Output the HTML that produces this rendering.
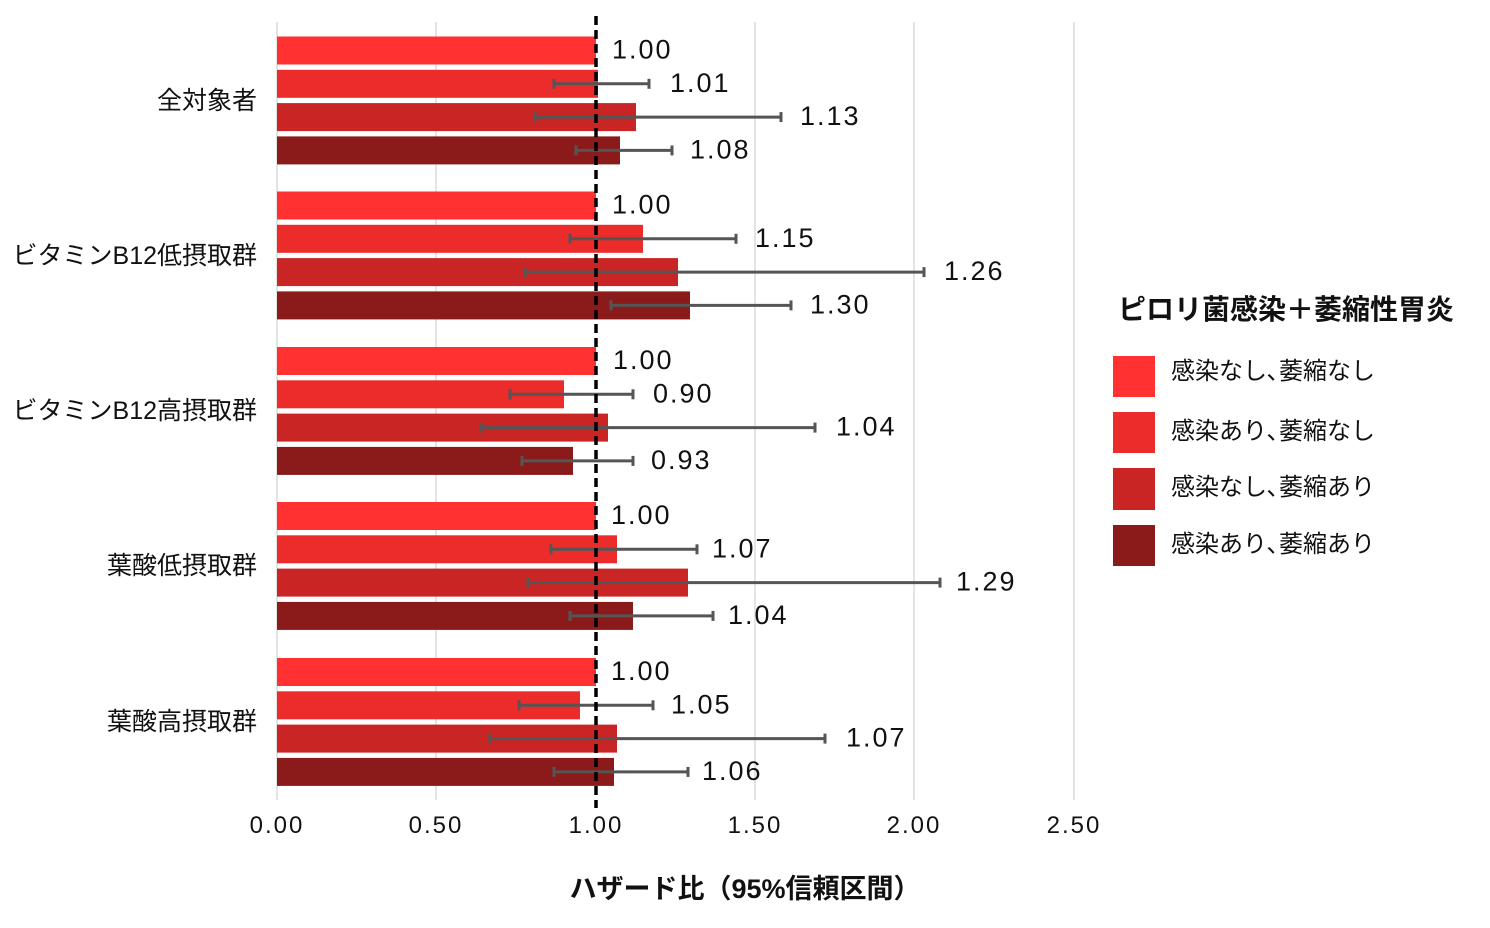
<!DOCTYPE html>
<html><head><meta charset="utf-8"><style>
body{margin:0;background:#fff;}
svg text{font-family:"Liberation Sans","Noto Sans CJK JP",sans-serif;fill:#111;}
</style></head><body>
<svg width="1490" height="923" xmlns="http://www.w3.org/2000/svg">
<g stroke="#dcdcdc" stroke-width="1.5">
<line x1="277" y1="22" x2="277" y2="800"/><line x1="436" y1="22" x2="436" y2="800"/>
<line x1="755" y1="22" x2="755" y2="800"/><line x1="914" y1="22" x2="914" y2="800"/><line x1="1074" y1="22" x2="1074" y2="800"/>
</g>
<g id="bars"></g>
<line x1="596" y1="16" x2="596" y2="808" stroke="#000" stroke-width="3.5" stroke-dasharray="9,5"/>
<g font-size="24" text-anchor="middle" letter-spacing="2">
<text x="277" y="833">0.00</text><text x="436" y="833">0.50</text><text x="596" y="833">1.00</text>
<text x="755" y="833">1.50</text><text x="914" y="833">2.00</text><text x="1074" y="833">2.50</text>
</g>
<g font-size="25" text-anchor="end">
<text x="257" y="109">全対象者</text><text x="257" y="264">ビタミンB12低摂取群</text>
<text x="257" y="419">ビタミンB12高摂取群</text><text x="257" y="574">葉酸低摂取群</text><text x="257" y="730">葉酸高摂取群</text>
</g>
<text x="745" y="898" font-size="27" font-weight="bold" text-anchor="middle">ハザード比（95%信頼区間）</text>
<text x="1118" y="319" font-size="28" font-weight="bold">ピロリ菌感染＋萎縮性胃炎</text>
<rect x="1113" y="356" width="42" height="41" fill="#ff3131"/>
<rect x="1113" y="412" width="42" height="41" fill="#ec2b2b"/>
<rect x="1113" y="468" width="42" height="42" fill="#c92525"/>
<rect x="1113" y="525" width="42" height="41" fill="#8b1a1a"/>
<g font-size="24">
<text x="1171" y="379">感染なし､萎縮なし</text><text x="1171" y="439">感染あり､萎縮なし</text>
<text x="1171" y="495">感染なし､萎縮あり</text><text x="1171" y="552">感染あり､萎縮あり</text>
</g>
</svg>
<script>
var cols=["#ff3131","#ec2b2b","#c92525","#8b1a1a"];
var starts=[36.5,191.5,347,502,658];
var ends=[[596,598,636,620],[596,643,678,690],[596,564,608,573],[596,617,688,633],[596,580,617,614]];
var errs=[[null,[554,649],[535,781],[576,672]],[null,[570,736],[525,924],[611,791]],[null,[510,633],[481,815],[522,633]],[null,[551,697],[528,940],[570,713]],[null,[519,653],[490,825],[554,688]]];
var labs=[["1.00","1.01","1.13","1.08"],["1.00","1.15","1.26","1.30"],["1.00","0.90","1.04","0.93"],["1.00","1.07","1.29","1.04"],["1.00","1.05","1.07","1.06"]];
var lx=[[612,670,800,690],[612,755,944,810],[613,653,836,651],[611,712,956,728],[611,671,846,702]];
var h="";
for(var g=0;g<5;g++)for(var i=0;i<4;i++){
 var y=starts[g]+i*33.3, cy=y+14;
 h+='<rect x="277" y="'+y+'" width="'+(ends[g][i]-277)+'" height="28" fill="'+cols[i]+'"/>';
 var e=errs[g][i];
 if(e){h+='<g stroke="#555" stroke-width="3"><line x1="'+e[0]+'" y1="'+cy+'" x2="'+e[1]+'" y2="'+cy+'"/><line x1="'+e[0]+'" y1="'+(cy-5)+'" x2="'+e[0]+'" y2="'+(cy+5)+'"/><line x1="'+e[1]+'" y1="'+(cy-5)+'" x2="'+e[1]+'" y2="'+(cy+5)+'"/></g>';}
 h+='<text x="'+lx[g][i]+'" y="'+(cy+8)+'" font-size="27" letter-spacing="2">'+labs[g][i]+'</text>';
}
document.getElementById("bars").innerHTML=h;
</script>
</body></html>
